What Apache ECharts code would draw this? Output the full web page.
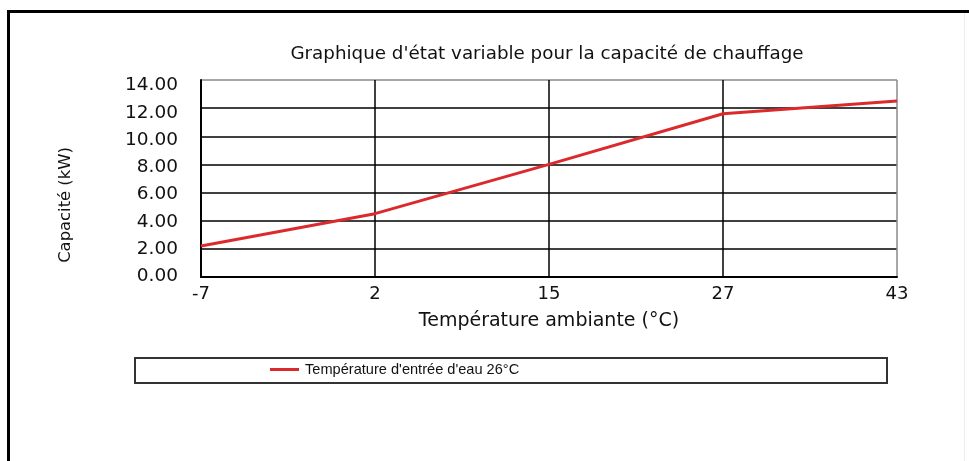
<!DOCTYPE html>
<html>
<head>
<meta charset="utf-8">
<script src="https://cdn.jsdelivr.net/npm/echarts@6/dist/echarts.min.js"></script>
<style>
  html, body { margin: 0; padding: 0; background: #fff; }
  #chart { width: 969px; height: 461px; }
</style>
</head>
<body>
<div id="chart"></div>
<script>
// Ambient temperatures (°C) along the x axis
const ambientTemps = ['-7', '2', '15', '27', '43'];
// Heating capacity (kW) at 26°C water inlet temperature
const capacityKW = [2.2, 4.5, 8.0, 11.6, 12.5];
// Capacity tick values (kW)
const capacityTicks = [0, 2, 4, 6, 8, 10, 12, 14];

const titleText = "Graphique d'état variable pour la capacité de chauffage";
const xAxisTitle = 'Température ambiante (°C)';
const yAxisTitle = 'Capacité (kW)';
const seriesName = "Température d'entrée d'eau 26°C";

const FONT = "'DejaVu Sans', sans-serif";
const LEGEND_FONT = "'Liberation Sans', Arial, sans-serif";
const RED = '#dc2a2c';

const chart = echarts.init(document.getElementById('chart'), null, { renderer: 'canvas' });

chart.setOption({
  backgroundColor: '#ffffff',
  animation: false,
  title: {
    text: titleText,
    left: 542,
    top: 40,
    textAlign: 'center',
    textStyle: { fontFamily: FONT, fontSize: 18.3, fontWeight: 'normal', color: '#111' }
  },
  grid: { left: 201, top: 80, right: 72, bottom: 184, containLabel: false },
  xAxis: {
    type: 'category',
    data: ambientTemps,
    boundaryGap: false,
    name: xAxisTitle,
    nameLocation: 'middle',
    nameGap: 35,
    nameTextStyle: { fontFamily: FONT, fontSize: 19, color: '#111' },
    axisLine: { show: true, lineStyle: { color: '#000', width: 2 } },
    axisTick: { show: false },
    axisLabel: { fontFamily: FONT, fontSize: 18, color: '#111', margin: 8 },
    splitLine: { show: true, lineStyle: { color: ['#000', '#000', '#000', '#000', '#8a8a8a'], width: 1.5 } }
  },
  yAxis: [
    {
      type: 'value',
      min: 0,
      max: 14,
      interval: 2,
      axisLine: { show: true, lineStyle: { color: '#000', width: 2 } },
      axisTick: { show: false },
      axisLabel: { show: false },
      splitLine: {
        show: true,
        lineStyle: { color: ['#000', '#000', '#000', '#000', '#000', '#000', '#000', '#8a8a8a'], width: 1.5 }
      }
    },
    {
      // label-only axis carrying the capacity tick texts
      type: 'value',
      position: 'left',
      min: -0.037,
      max: 14.41,
      axisLine: { show: false },
      axisTick: { show: false },
      splitLine: { show: false },
      axisLabel: {
        customValues: capacityTicks,
        fontFamily: FONT,
        fontSize: 18.5,
        color: '#111',
        margin: 23,
        formatter: v => Number(v).toFixed(2)
      }
    }
  ],
  legend: {
    show: true,
    left: 270,
    top: 362,
    padding: 0,
    icon: 'rect',
    itemWidth: 29,
    itemHeight: 3,
    itemGap: 6,
    textStyle: { fontFamily: LEGEND_FONT, fontSize: 14.6, color: '#111', padding: [0, 0, 0, 1] },
    data: [{ name: seriesName, itemStyle: { color: RED } }]
  },
  graphic: [
    // page frame (left and top bars, faint right edge)
    { type: 'rect', shape: { x: 7, y: 10, width: 3, height: 451 }, style: { fill: '#000' }, silent: true },
    { type: 'rect', shape: { x: 7, y: 10, width: 962, height: 3 }, style: { fill: '#000' }, silent: true },
    { type: 'rect', shape: { x: 964, y: 13, width: 1, height: 448 }, style: { fill: '#ececec' }, silent: true },
    // legend box
    {
      type: 'rect',
      shape: { x: 135, y: 358, width: 752, height: 25 },
      style: { fill: 'none', stroke: '#333', lineWidth: 2 },
      silent: true
    },
    // vertical axis title
    {
      type: 'text',
      x: 66,
      y: 205,
      rotation: Math.PI / 2,
      style: {
        text: yAxisTitle,
        fontFamily: FONT,
        fontSize: 16.4,
        fill: '#111',
        align: 'center',
        verticalAlign: 'middle'
      },
      silent: true
    }
  ],
  series: [
    {
      name: seriesName,
      type: 'line',
      data: capacityKW,
      xAxisIndex: 0,
      yAxisIndex: 0,
      symbol: 'none',
      smooth: false,
      lineStyle: { color: RED, width: 3 },
      itemStyle: { color: RED },
      z: 5
    }
  ]
});
</script>
</body>
</html>
